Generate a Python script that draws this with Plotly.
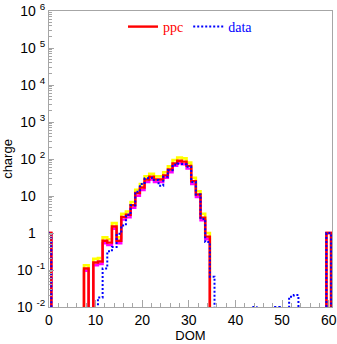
import plotly.graph_objects as go

# DOM index along the string (bins centred on integers)
dom = list(range(61))

# ppc prediction per DOM
ppc = [1, 0, 0, 0, 0, 0, 0, 0, 0.11, 0, 0.16, 0.17, 0.62, 0.55, 1.5, 0.62,
       2.7, 3.1, 5.6, 12, 17, 28, 33, 28, 28, 36, 52, 76, 90, 85, 65,
       25, 11, 2.6, 0.8, 0, 0, 0, 0, 0, 0, 0, 0, 0, 0, 0,
       0, 0, 0, 0, 0, 0, 0, 0, 0, 0, 0, 0, 0, 0, 1]

# ppc upper edge of the uncertainty band
ppc_hi = [1, 0, 0, 0, 0, 0, 0, 0, 0.135, 0, 0.2, 0.21, 0.76, 0.68, 1.85, 0.76,
          3.3, 3.8, 6.9, 14.8, 21, 34, 40, 34, 34, 44, 63, 93, 110, 104, 80,
          31, 13.5, 3.3, 1.0, 0, 0, 0, 0, 0, 0, 0, 0, 0, 0, 0,
          0, 0, 0, 0, 0, 0, 0, 0, 0, 0, 0, 0, 0, 0, 1]

# ppc lower edge of the uncertainty band
ppc_lo = [1, 0, 0, 0, 0, 0, 0, 0, 0.095, 0, 0.135, 0.145, 0.53, 0.47, 1.3, 0.53,
          2.3, 2.65, 4.8, 10.2, 14.5, 24, 28, 24, 24, 31, 44, 65, 77, 72, 55,
          21, 9.4, 2.2, 0.68, 0, 0, 0, 0, 0, 0, 0, 0, 0, 0, 0,
          0, 0, 0, 0, 0, 0, 0, 0, 0, 0, 0, 0, 0, 0, 1]

# measured charge per DOM
data = [1, 0, 0, 0, 0, 0, 0, 0, 0, 0, 0, 0.018, 0.11, 0.32, 0.42, 0.95,
        1.6, 3.1, 5.6, 13, 21, 30, 31, 27, 19, 33, 50, 70, 75, 72, 62,
        24, 11, 2.4, 0.57, 0.066, 0, 0, 0, 0, 0, 0, 0, 0, 0.01, 0,
        0, 0, 0, 0.01, 0, 0, 0.019, 0.021, 0, 0, 0, 0, 0, 0, 1]

y_tick_vals = [1e-2, 1e-1, 1, 10, 1e2, 1e3, 1e4, 1e5, 1e6]
y_tick_text = ["10 <sup>-2</sup>", "10 <sup>-1</sup>", "1 <sup>\u2007</sup>",
               "10 <sup>\u2007</sup>", "10 <sup>2</sup>", "10 <sup>3</sup>",
               "10 <sup>4</sup>", "10 <sup>5</sup>", "10 <sup>6</sup>"]
y_minor_vals = [m * 10.0 ** e for e in range(-2, 6) for m in range(2, 10)]

FLOOR = 1e-3  # empty bins drop below the visible range
AXIS_GREY = "#a6a6a6"


def steps(values):
    """Histogram outline: one flat segment per DOM bin."""
    xs, ys = [dom[0] - 0.5], [FLOOR]
    for d, v in zip(dom, values):
        v = v if v > 0 else FLOOR
        xs += [d - 0.5, d + 0.5]
        ys += [v, v]
    xs.append(dom[-1] + 0.5)
    ys.append(FLOOR)
    return xs, ys


fig = go.Figure()

for vals, col, w in [(ppc_hi, "#ffff00", 2.6), (ppc_lo, "#ff00ff", 2.4)]:
    sx, sy = steps(vals)
    fig.add_trace(go.Scatter(x=sx, y=sy, mode="lines", showlegend=False,
                             line=dict(color=col, width=w), hoverinfo="skip"))

sx, sy = steps(ppc)
fig.add_trace(go.Scatter(x=sx, y=sy, mode="lines",
                         name="<span style='color:#ff0000'>ppc</span>",
                         line=dict(color="#ff0000", width=2.4)))

sx, sy = steps(data)
fig.add_trace(go.Scatter(x=sx, y=sy, mode="lines",
                         name="<span style='color:#0000ff'>data</span>",
                         line=dict(color="#0000ff", width=2, dash="2px,2px")))

tick_font = dict(family="Liberation Sans, Arial, sans-serif", size=14, color="#000000")

fig.update_layout(
    width=337, height=344,
    margin=dict(l=49, r=5, t=11, b=37, autoexpand=False),
    paper_bgcolor="white", plot_bgcolor="white",
    showlegend=True,
    legend=dict(orientation="h", x=0.5, xanchor="center", y=1.0, yanchor="top",
                bgcolor="rgba(0,0,0,0)", itemwidth=30,
                font=dict(family="Liberation Serif, Times New Roman, serif", size=14)),
    xaxis=dict(range=[0, 60.7], automargin=False, showline=True,
               linecolor=AXIS_GREY, linewidth=1,
               mirror=True, ticks="inside", ticklen=7, tickcolor=AXIS_GREY,
               tick0=0, dtick=10, showgrid=False, zeroline=False,
               minor=dict(ticks="inside", ticklen=4, dtick=2, tickcolor=AXIS_GREY),
               tickfont=tick_font,
               title=dict(text="DOM", standoff=1,
                          font=dict(family="Liberation Sans, Arial, sans-serif",
                                    size=13, color="#000000"))),
    yaxis=dict(type="log", range=[-2, 6], automargin=False, showline=True,
               linecolor=AXIS_GREY,
               linewidth=1, mirror=True, ticks="inside", ticklen=5,
               tickcolor=AXIS_GREY, tickmode="array", tickvals=y_tick_vals,
               ticktext=y_tick_text, showgrid=False, zeroline=False,
               minor=dict(ticks="inside", ticklen=3, tickcolor=AXIS_GREY,
                          tickmode="array", tickvals=y_minor_vals),
               tickfont=tick_font,
               title=dict(text="charge", standoff=4,
                          font=dict(family="Liberation Sans, Arial, sans-serif",
                                    size=13, color="#000000"))),
)

fig.write_html("out.html")
